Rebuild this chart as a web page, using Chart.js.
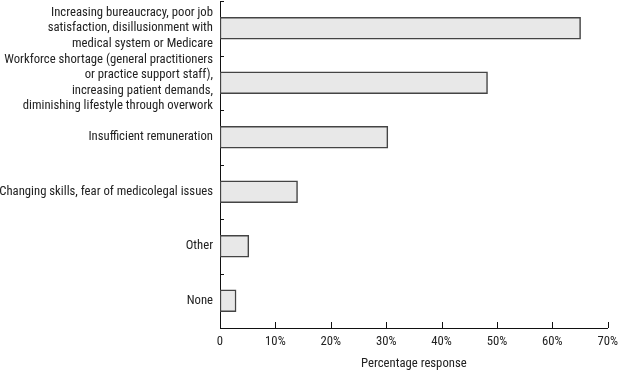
<!DOCTYPE html>
<html>
<head>
<meta charset="utf-8">
<script src="https://cdn.jsdelivr.net/npm/chart.js@4"></script>
<style>
  html, body { margin: 0; padding: 0; background: #fff; }
  #wrap { width: 620px; height: 371px; position: relative; }
</style>
</head>
<body>
<div id="wrap"><canvas id="reasons"></canvas></div>
<script>
const categories = [
  ["Increasing bureaucracy, poor job", "satisfaction, disillusionment with", "medical system or Medicare"],
  ["Workforce shortage (general practitioners", "or practice support staff),", "increasing patient demands,", "diminishing lifestyle through overwork"],
  "Insufficient remuneration",
  "Changing skills, fear of medicolegal issues",
  "Other",
  "None"
];
const responses = [65.1, 48.3, 30.3, 14.0, 5.2, 2.9];
const xTicks = [0, 10, 20, 30, 40, 50, 60, 70];

const FONT = "'Roboto Condensed', 'DejaVu Sans Condensed', sans-serif";

// short inward tick marks, taken from the scales
const inwardTicks = {
  id: "inwardTicks",
  afterDraw(chart) {
    const ctx = chart.ctx;
    const x = chart.scales.x, y = chart.scales.y;
    ctx.save();
    ctx.strokeStyle = "#111";
    ctx.lineWidth = 1;
    ctx.beginPath();
    xTicks.forEach(v => {
      const px = Math.round(x.getPixelForValue(v)) + 0.5;
      ctx.moveTo(px, y.bottom);
      ctx.lineTo(px, y.bottom - 6);
    });
    const band = y.getPixelForValue(1) - y.getPixelForValue(0);
    for (let i = 0; i < categories.length; i++) {
      const py = Math.round(y.getPixelForValue(i) - band / 2) + 0.5;
      ctx.moveTo(x.left, py);
      ctx.lineTo(x.left + 4, py);
    }
    ctx.stroke();
    ctx.restore();
  }
};

new Chart(document.getElementById("reasons"), {
  type: "bar",
  data: {
    labels: categories,
    datasets: [{
      data: responses,
      backgroundColor: "#e8e8e8",
      borderColor: "#444",
      borderWidth: 1.5,
      borderSkipped: false,
      barThickness: 22
    }]
  },
  options: {
    indexAxis: "y",
    responsive: true,
    maintainAspectRatio: false,
    animation: false,
    layout: { padding: { top: 1, right: 0, left: 0, bottom: 0 } },
    plugins: {
      legend: { display: false },
      tooltip: { enabled: false }
    },
    scales: {
      x: {
        min: 0,
        max: 70,
        afterBuildTicks: s => { s.ticks = xTicks.map(v => ({ value: v })); },
        afterFit: s => { s.height = 43; },
        grid: { display: false, tickLength: 4 },
        border: { display: true, color: "#111", width: 1 },
        ticks: {
          padding: 2,
          color: "#222",
          font: { family: FONT, size: 12.7 },
          callback: v => v === 0 ? "0" : v + "%"
        },
        title: {
          display: true,
          text: "Percentage response",
          color: "#222",
          padding: { top: 3, bottom: 0 },
          font: { family: FONT, size: 12.7 }
        }
      },
      y: {
        // labels sit inside their bands, so no extra room above/below
        afterFit: s => { s.width = 220; s.paddingTop = 0; s.paddingBottom = 0; },
        grid: { display: false, offset: true, tickLength: 7 },
        border: { display: true, color: "#111", width: 1 },
        ticks: {
          autoSkip: false,
          padding: 0,
          color: "#222",
          font: { family: FONT, size: 12.7, lineHeight: 1.2 }
        }
      }
    }
  },
  plugins: [inwardTicks]
});
</script>
</body>
</html>
